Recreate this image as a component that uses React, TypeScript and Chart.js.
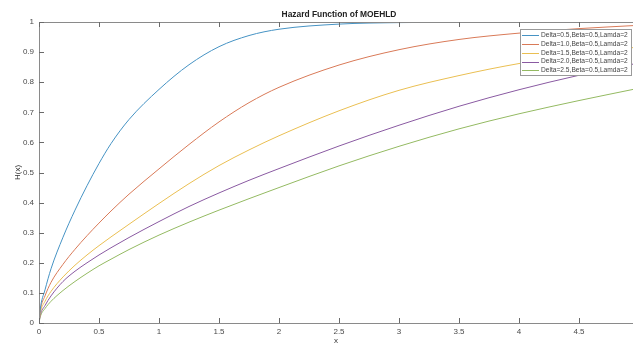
import React, { useEffect, useRef } from "react";
import { Chart, registerables } from "chart.js";

Chart.register(...registerables);

const xValues = [0, 0.01, 0.05, 0.1, 0.2, 0.3, 0.4, 0.5, 0.6, 0.75, 1, 1.25, 1.5, 1.75, 2, 2.5, 3, 3.5, 4, 4.5, 4.95];

const delta05 = [0, 0.045, 0.11, 0.18, 0.285, 0.375, 0.456, 0.53, 0.596, 0.676, 0.776, 0.858, 0.918, 0.955, 0.976, 0.993, 0.998, 0.999, 1.0, 1.0, 1.0];
const delta10 = [0, 0.04, 0.09, 0.135, 0.195, 0.245, 0.29, 0.332, 0.372, 0.428, 0.512, 0.593, 0.668, 0.732, 0.783, 0.857, 0.908, 0.942, 0.963, 0.978, 0.988];
const delta15 = [0, 0.032, 0.072, 0.105, 0.153, 0.192, 0.226, 0.257, 0.286, 0.328, 0.397, 0.463, 0.523, 0.575, 0.622, 0.705, 0.773, 0.822, 0.862, 0.892, 0.915];
const delta20 = [0, 0.025, 0.058, 0.09, 0.138, 0.172, 0.2, 0.226, 0.25, 0.284, 0.337, 0.387, 0.432, 0.474, 0.513, 0.588, 0.657, 0.72, 0.775, 0.823, 0.86];
const delta25 = [0, 0.02, 0.048, 0.072, 0.108, 0.138, 0.165, 0.19, 0.212, 0.244, 0.292, 0.335, 0.375, 0.413, 0.45, 0.522, 0.587, 0.645, 0.695, 0.739, 0.776];

const seriesLabels = [
  "Delta=0.5,Beta=0.5,Lamda=2",
  "Delta=1.0,Beta=0.5,Lamda=2",
  "Delta=1.5,Beta=0.5,Lamda=2",
  "Delta=2.0,Beta=0.5,Lamda=2",
  "Delta=2.5,Beta=0.5,Lamda=2",
];
const seriesColors = ["#4693c4", "#d97a58", "#eabf52", "#8a5aa2", "#94ba62"];
const seriesValues = [delta05, delta10, delta15, delta20, delta25];

const xTicks = [0, 0.5, 1, 1.5, 2, 2.5, 3, 3.5, 4, 4.5];
const yTicks = [0, 0.1, 0.2, 0.3, 0.4, 0.5, 0.6, 0.7, 0.8, 0.9, 1];

const titleText = "Hazard Function of MOEHLD";
const FONT = "'Liberation Sans', Arial, sans-serif";

const decorPlugin = {
  id: "decor",
  afterDraw(chart: any) {
    const ctx = chart.ctx;
    const ca = chart.chartArea;
    const xs = chart.scales.x;
    const ys = chart.scales.y;
    ctx.save();
    // axes box
    ctx.strokeStyle = "#8a8a8a";
    ctx.lineWidth = 1;
    ctx.beginPath();
    ctx.moveTo(ca.left + 0.5, ca.top);
    ctx.lineTo(ca.left + 0.5, ca.bottom);
    ctx.moveTo(ca.left, ca.bottom + 0.5);
    ctx.lineTo(ca.right, ca.bottom + 0.5);
    ctx.moveTo(ca.left, ca.top + 0.5);
    ctx.lineTo(ca.right, ca.top + 0.5);
    ctx.stroke();
    // inward ticks
    ctx.strokeStyle = "#6a6a6a";
    ctx.beginPath();
    xTicks.forEach((v) => {
      const px = Math.round(xs.getPixelForValue(v)) + 0.5;
      ctx.moveTo(px, ca.bottom);
      ctx.lineTo(px, ca.bottom - 5);
      ctx.moveTo(px, ca.top);
      ctx.lineTo(px, ca.top + 5);
    });
    yTicks.forEach((v) => {
      const py = Math.round(ys.getPixelForValue(v)) + 0.5;
      ctx.moveTo(ca.left, py);
      ctx.lineTo(ca.left + 5, py);
    });
    ctx.stroke();

    // title
    ctx.fillStyle = "#222";
    let fs = 10;
    ctx.font = `bold ${fs}px ${FONT}`;
    const tw = ctx.measureText(titleText).width;
    fs = fs * (115 / tw);
    ctx.font = `bold ${fs.toFixed(2)}px ${FONT}`;
    ctx.textAlign = "center";
    ctx.textBaseline = "middle";
    ctx.fillText(titleText, (ca.left + ca.right) / 2 + 3, 14.5);

    // legend
    const bx = ca.right - 113;
    const by = ca.top + 7;
    const bw = 111;
    const bh = 46;
    ctx.fillStyle = "#fff";
    ctx.fillRect(bx, by, bw, bh);
    ctx.strokeStyle = "#9a9a9a";
    ctx.strokeRect(bx + 0.5, by + 0.5, bw, bh);
    let lfs = 10;
    ctx.font = `${lfs}px ${FONT}`;
    const lw = ctx.measureText(seriesLabels[0]).width;
    lfs = lfs * (87 / lw);
    ctx.font = `${lfs.toFixed(2)}px ${FONT}`;
    ctx.textAlign = "left";
    ctx.textBaseline = "middle";
    seriesLabels.forEach((lab, i) => {
      const yy = by + 6.3 + i * 8.75;
      ctx.strokeStyle = seriesColors[i];
      ctx.beginPath();
      ctx.moveTo(bx + 2, Math.round(yy) + 0.5);
      ctx.lineTo(bx + 19, Math.round(yy) + 0.5);
      ctx.stroke();
      ctx.fillStyle = "#444";
      ctx.fillText(lab, bx + 21, yy);
    });
    ctx.restore();
  },
};

export default function App() {
  const ref = useRef<HTMLCanvasElement | null>(null);
  useEffect(() => {
    document.body.style.margin = "0";
    const canvas = ref.current;
    if (!canvas) return;
    const chart = new Chart(canvas, {
      type: "line",
      data: {
        datasets: seriesValues.map((vals, i) => ({
          label: seriesLabels[i],
          data: xValues.map((x, j) => ({ x, y: vals[j] })),
          borderColor: seriesColors[i],
          backgroundColor: seriesColors[i],
          borderWidth: 1,
          pointRadius: 0,
          cubicInterpolationMode: "monotone" as const,
          fill: false,
        })),
      },
      options: {
        animation: false,
        responsive: false,
        devicePixelRatio: 1,
        layout: { padding: { top: 22, right: 0, left: 0, bottom: 0 } },
        plugins: {
          legend: { display: false },
          title: { display: false },
          tooltip: { enabled: false },
        },
        scales: {
          x: {
            type: "linear",
            min: 0,
            max: 4.95,
            afterFit: (s: any) => { s.height = 23; },
            afterBuildTicks: (s: any) => { s.ticks = xTicks.map((v) => ({ value: v })); },
            grid: { display: false, drawTicks: false },
            border: { display: false },
            ticks: {
              padding: 4,
              color: "#4a4a4a",
              font: { family: FONT, size: 8 },
              maxRotation: 0,
              autoSkip: false,
              callback: (v: any) => String(v),
            },
            title: {
              display: true,
              text: "x",
              color: "#333",
              font: { family: FONT, size: 8 },
              padding: { top: 0, bottom: 0 },
            },
          },
          y: {
            type: "linear",
            min: 0,
            max: 1,
            afterFit: (s: any) => { s.width = 39; },
            afterBuildTicks: (s: any) => { s.ticks = yTicks.map((v) => ({ value: v })); },
            grid: { display: false, drawTicks: false },
            border: { display: false },
            ticks: {
              padding: 5,
              color: "#4a4a4a",
              font: { family: FONT, size: 8 },
              autoSkip: false,
              callback: (v: any) => String(Math.round(v * 10) / 10),
            },
            title: {
              display: true,
              text: "H(x)",
              color: "#333",
              font: { family: FONT, size: 8 },
              padding: { top: 13, bottom: 0 },
            },
          },
        },
      },
      plugins: [decorPlugin],
    });
    return () => chart.destroy();
  }, []);
  return (
    <div style={{ width: 633, height: 346 }}>
      <canvas ref={ref} width={633} height={346} style={{ width: 633, height: 346, display: "block" }} />
    </div>
  );
}
